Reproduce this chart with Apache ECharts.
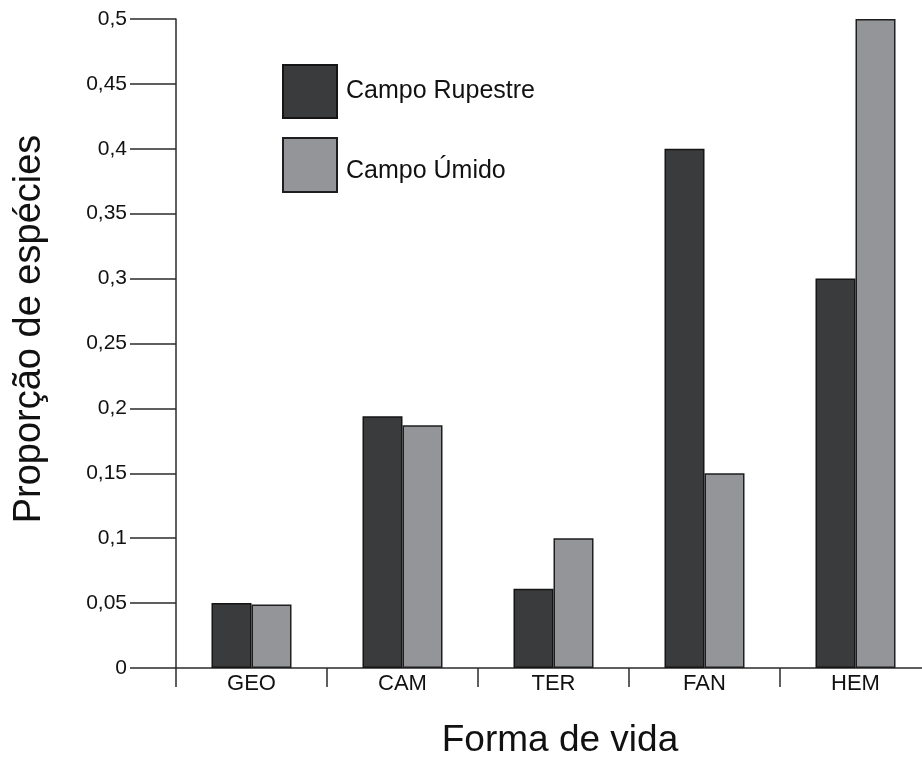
<!DOCTYPE html>
<html>
<head>
<meta charset="utf-8">
<script src="https://cdn.jsdelivr.net/npm/echarts@6/dist/echarts.min.js"></script>
<style>html,body{margin:0;padding:0;background:#fff}#c{width:922px;height:758px}</style>
</head>
<body>
<div id="c"></div>
<script>
const categories = ['GEO', 'CAM', 'TER', 'FAN', 'HEM'];
const campoRupestre = [0.050, 0.194, 0.061, 0.400, 0.300];
const campoUmido = [0.049, 0.187, 0.100, 0.150, 0.500];
const seriesNames = ['Campo Rupestre', 'Campo Úmido'];
const yTitle = 'Proporção de espécies';
const xTitle = 'Forma de vida';

const FONT = '"Liberation Sans", Arial, Helvetica, sans-serif';
const DARK = '#3a3b3d';
const GRAY = '#939598';
const LINE = '#2b2b2b';

const chart = echarts.init(document.getElementById('c'), null, {renderer: 'canvas'});
chart.setOption({
  backgroundColor: '#ffffff',
  animation: false,
  textStyle: {fontFamily: FONT},
  grid: {left: 176, width: 755, top: 19, bottom: 90, containLabel: false, outerBoundsMode: 'none'},
  legend: [
    {
      data: [seriesNames[0]], orient: 'vertical', left: 282, top: 64, padding: 0,
      icon: 'rect', itemWidth: 54, itemHeight: 53, itemGap: 10,
      formatter: '{a|{name}}',
      textStyle: {fontFamily: FONT, fontSize: 25, color: '#111',
        rich: {a: {fontFamily: FONT, fontSize: 25, color: '#111', padding: [0, 0, 0, 4]}}}
    },
    {
      data: [seriesNames[1]], orient: 'vertical', left: 282, top: 137, padding: 0,
      icon: 'rect', itemWidth: 54, itemHeight: 54, itemGap: 10,
      formatter: '{a|{name}}',
      textStyle: {fontFamily: FONT, fontSize: 25, color: '#111',
        rich: {a: {fontFamily: FONT, fontSize: 25, color: '#111', padding: [12, 0, 0, 4]}}}
    }
  ],
  xAxis: {
    type: 'category',
    data: categories,
    axisLine: {lineStyle: {color: LINE, width: 1.5}},
    axisTick: {show: true, length: 19, alignWithLabel: false, lineStyle: {color: LINE, width: 1.5}},
    axisLabel: {fontFamily: FONT, fontSize: 22, color: '#111', margin: 5}
  },
  yAxis: {
    type: 'value',
    min: 0, max: 0.5, interval: 0.05,
    splitLine: {show: false},
    axisLine: {show: true, lineStyle: {color: LINE, width: 1.5}},
    axisTick: {show: true, length: 46, lineStyle: {color: LINE, width: 1.5}},
    axisLabel: {
      fontFamily: FONT, fontSize: 21, color: '#111', margin: 49,
      formatter: v => String(+v.toFixed(2)).replace('.', ',')
    }
  },
  graphic: [
    {
      type: 'text', x: 30, y: 329, rotation: Math.PI / 2,
      style: {text: yTitle, fontFamily: FONT, fontSize: 38, fill: '#111', align: 'center', verticalAlign: 'middle'}
    },
    {
      type: 'text', x: 560, y: 741,
      style: {text: xTitle, fontFamily: FONT, fontSize: 37, fill: '#111', align: 'center', verticalAlign: 'middle'}
    }
  ],
  series: [
    {
      name: seriesNames[0], type: 'bar', data: campoRupestre,
      barWidth: 40, barGap: '0%',
      itemStyle: {color: DARK, borderColor: '#151515', borderWidth: 1.5}
    },
    {
      name: seriesNames[1], type: 'bar', data: campoUmido,
      barWidth: 40, barGap: '0%',
      itemStyle: {color: GRAY, borderColor: '#1e1e1e', borderWidth: 1.5}
    }
  ]
});
</script>
</body>
</html>
